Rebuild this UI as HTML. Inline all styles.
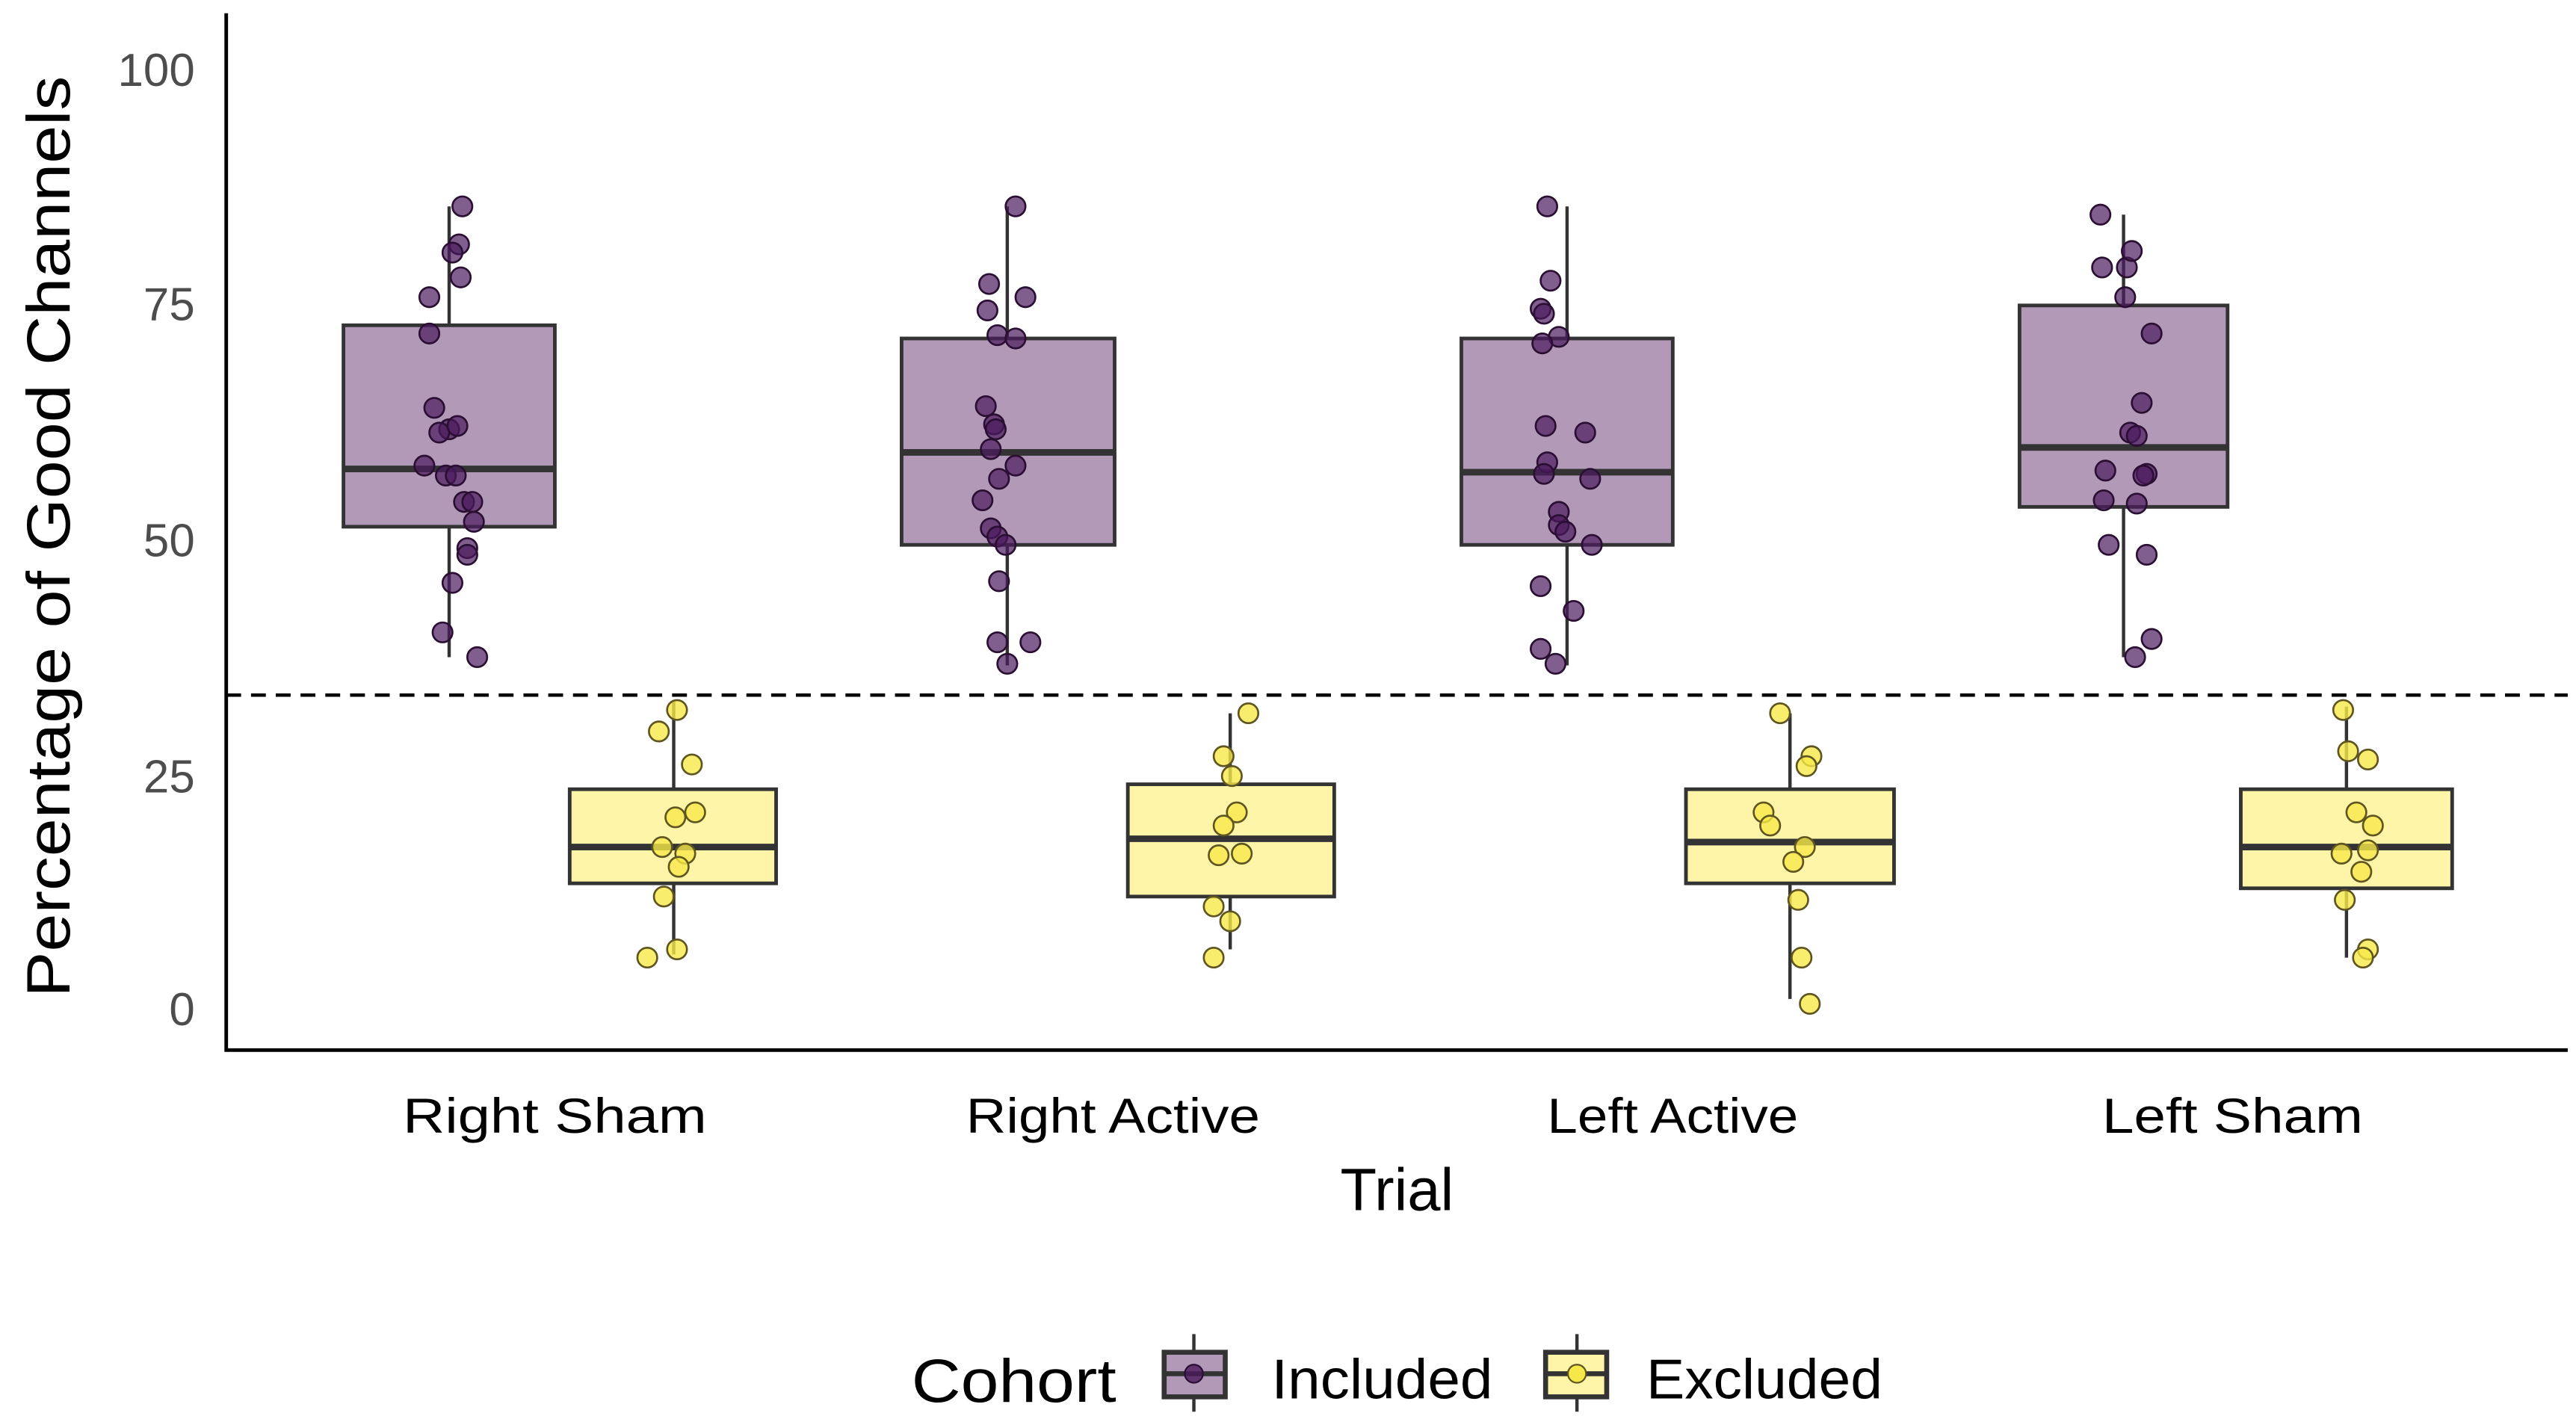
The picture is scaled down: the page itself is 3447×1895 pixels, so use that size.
<!DOCTYPE html>
<html><head><meta charset="utf-8"><style>html,body{margin:0;padding:0;background:#fff}svg{display:block}</style></head>
<body>
<svg width="3447" height="1895" viewBox="0 0 1560 857.6" xmlns="http://www.w3.org/2000/svg" font-family="Liberation Sans, Arial, sans-serif">
<rect width="1560" height="857.6" fill="#fff"/>
<!-- dashed threshold -->
<line x1="137" y1="421" x2="1555" y2="421" stroke="#000" stroke-width="2" stroke-dasharray="9,6"/>
<g stroke="#333" stroke-width="2">
<!-- whiskers -->
<line x1="272" y1="125" x2="272" y2="398"/><line x1="408" y1="425" x2="408" y2="578"/>
<line x1="610" y1="125" x2="610" y2="403"/><line x1="745" y1="432" x2="745" y2="575"/>
<line x1="949" y1="125" x2="949" y2="403"/><line x1="1084" y1="432" x2="1084" y2="605"/>
<line x1="1286" y1="130" x2="1286" y2="398"/><line x1="1421" y1="428" x2="1421" y2="580"/>
</g>
<g stroke="#333" stroke-width="2.2">
<rect x="208" y="197" width="128" height="122" fill="#b399b8"/>
<rect x="345" y="478" width="125" height="57" fill="#fff5a8"/>
<rect x="546" y="205" width="129" height="125" fill="#b399b8"/>
<rect x="683" y="475" width="125" height="68" fill="#fff5a8"/>
<rect x="885" y="205" width="128" height="125" fill="#b399b8"/>
<rect x="1021" y="478" width="126" height="57" fill="#fff5a8"/>
<rect x="1223" y="185" width="126" height="122" fill="#b399b8"/>
<rect x="1357" y="478" width="128" height="60" fill="#fff5a8"/>
</g>
<g stroke="#333" stroke-width="4">
<line x1="208" y1="284" x2="336" y2="284"/><line x1="345" y1="513" x2="470" y2="513"/>
<line x1="546" y1="274" x2="675" y2="274"/><line x1="683" y1="508" x2="808" y2="508"/>
<line x1="885" y1="286" x2="1013" y2="286"/><line x1="1021" y1="510" x2="1147" y2="510"/>
<line x1="1223" y1="271" x2="1349" y2="271"/><line x1="1357" y1="513" x2="1485" y2="513"/>
</g>
<!-- included points -->
<g fill="#4a1a5c" fill-opacity="0.7" stroke="#2a0f33" stroke-width="1.2">
<circle cx="280" cy="125" r="6"/><circle cx="278" cy="148" r="6"/><circle cx="274" cy="153" r="6"/><circle cx="279" cy="168" r="6"/><circle cx="260" cy="180" r="6"/><circle cx="260" cy="202" r="6"/><circle cx="263" cy="247" r="6"/><circle cx="272" cy="260" r="6"/><circle cx="266" cy="262" r="6"/><circle cx="277" cy="258" r="6"/><circle cx="257" cy="282" r="6"/><circle cx="270" cy="288" r="6"/><circle cx="276" cy="288" r="6"/><circle cx="281" cy="304" r="6"/><circle cx="286" cy="304" r="6"/><circle cx="287" cy="316" r="6"/><circle cx="283" cy="332" r="6"/><circle cx="283" cy="336" r="6"/><circle cx="274" cy="353" r="6"/><circle cx="268" cy="383" r="6"/><circle cx="289" cy="398" r="6"/>
<circle cx="615" cy="125" r="6"/><circle cx="599" cy="172" r="6"/><circle cx="621" cy="180" r="6"/><circle cx="598" cy="188" r="6"/><circle cx="604" cy="203" r="6"/><circle cx="615" cy="205" r="6"/><circle cx="597" cy="246" r="6"/><circle cx="602" cy="257" r="6"/><circle cx="603" cy="260" r="6"/><circle cx="600" cy="272" r="6"/><circle cx="615" cy="282" r="6"/><circle cx="605" cy="290" r="6"/><circle cx="595" cy="303" r="6"/><circle cx="600" cy="320" r="6"/><circle cx="604" cy="325" r="6"/><circle cx="609" cy="330" r="6"/><circle cx="605" cy="352" r="6"/><circle cx="604" cy="389" r="6"/><circle cx="624" cy="389" r="6"/><circle cx="610" cy="402" r="6"/>
<circle cx="937" cy="125" r="6"/><circle cx="939" cy="170" r="6"/><circle cx="933" cy="187" r="6"/><circle cx="935" cy="190" r="6"/><circle cx="944" cy="204" r="6"/><circle cx="934" cy="208" r="6"/><circle cx="936" cy="258" r="6"/><circle cx="960" cy="262" r="6"/><circle cx="937" cy="280" r="6"/><circle cx="963" cy="290" r="6"/><circle cx="935" cy="287" r="6"/><circle cx="944" cy="310" r="6"/><circle cx="944" cy="318" r="6"/><circle cx="948" cy="322" r="6"/><circle cx="964" cy="330" r="6"/><circle cx="933" cy="355" r="6"/><circle cx="953" cy="370" r="6"/><circle cx="933" cy="393" r="6"/><circle cx="942" cy="402" r="6"/>
<circle cx="1272" cy="130" r="6"/><circle cx="1288" cy="162" r="6"/><circle cx="1273" cy="162" r="6"/><circle cx="1291" cy="152" r="6"/><circle cx="1287" cy="180" r="6"/><circle cx="1303" cy="202" r="6"/><circle cx="1297" cy="244" r="6"/><circle cx="1290" cy="262" r="6"/><circle cx="1294" cy="264" r="6"/><circle cx="1275" cy="285" r="6"/><circle cx="1300" cy="287" r="6"/><circle cx="1298" cy="288" r="6"/><circle cx="1274" cy="303" r="6"/><circle cx="1294" cy="305" r="6"/><circle cx="1277" cy="330" r="6"/><circle cx="1300" cy="336" r="6"/><circle cx="1303" cy="387" r="6"/><circle cx="1293" cy="398" r="6"/>
</g>
<!-- excluded points -->
<g fill="#f7e84a" fill-opacity="0.8" stroke="#5e5520" stroke-width="1.2">
<circle cx="410" cy="430" r="6"/><circle cx="399" cy="443" r="6"/><circle cx="419" cy="463" r="6"/><circle cx="409" cy="495" r="6"/><circle cx="421" cy="492" r="6"/><circle cx="401" cy="513" r="6"/><circle cx="415" cy="517" r="6"/><circle cx="411" cy="525" r="6"/><circle cx="402" cy="543" r="6"/><circle cx="410" cy="575" r="6"/><circle cx="392" cy="580" r="6"/>
<circle cx="756" cy="432" r="6"/><circle cx="741" cy="458" r="6"/><circle cx="746" cy="470" r="6"/><circle cx="749" cy="492" r="6"/><circle cx="741" cy="500" r="6"/><circle cx="738" cy="518" r="6"/><circle cx="752" cy="517" r="6"/><circle cx="735" cy="549" r="6"/><circle cx="745" cy="558" r="6"/><circle cx="735" cy="580" r="6"/>
<circle cx="1078" cy="432" r="6"/><circle cx="1097" cy="458" r="6"/><circle cx="1094" cy="464" r="6"/><circle cx="1068" cy="492" r="6"/><circle cx="1072" cy="500" r="6"/><circle cx="1093" cy="513" r="6"/><circle cx="1086" cy="522" r="6"/><circle cx="1089" cy="545" r="6"/><circle cx="1091" cy="580" r="6"/><circle cx="1096" cy="608" r="6"/>
<circle cx="1419" cy="430" r="6"/><circle cx="1422" cy="455" r="6"/><circle cx="1434" cy="460" r="6"/><circle cx="1427" cy="492" r="6"/><circle cx="1437" cy="500" r="6"/><circle cx="1418" cy="517" r="6"/><circle cx="1434" cy="515" r="6"/><circle cx="1430" cy="528" r="6"/><circle cx="1420" cy="545" r="6"/><circle cx="1434" cy="575" r="6"/><circle cx="1431" cy="580" r="6"/>
</g>
<!-- axes -->
<line x1="137" y1="8" x2="137" y2="637" stroke="#000" stroke-width="2.2"/>
<line x1="136" y1="636" x2="1555" y2="636" stroke="#000" stroke-width="2.2"/>
<!-- y tick labels -->
<g fill="#4d4d4d" font-size="28" text-anchor="end">
<text x="118" y="52">100</text><text x="118" y="194">75</text><text x="118" y="337">50</text><text x="118" y="480">25</text><text x="118" y="621">0</text>
</g>
<text transform="translate(42,325) rotate(-90)" font-size="37" text-anchor="middle" fill="#000" textLength="558" lengthAdjust="spacingAndGlyphs">Percentage of Good Channels</text>
<g font-size="30" text-anchor="middle" fill="#000">
<text x="336" y="686" textLength="184" lengthAdjust="spacingAndGlyphs">Right Sham</text>
<text x="674" y="686" textLength="178" lengthAdjust="spacingAndGlyphs">Right Active</text>
<text x="1013" y="686" textLength="152" lengthAdjust="spacingAndGlyphs">Left Active</text>
<text x="1352" y="686" textLength="158" lengthAdjust="spacingAndGlyphs">Left Sham</text>
</g>
<text x="846" y="733" font-size="36" text-anchor="middle" fill="#000">Trial</text>
<!-- legend -->
<text x="552" y="849" font-size="37" fill="#000" textLength="124" lengthAdjust="spacingAndGlyphs">Cohort</text>
<line x1="723" y1="808" x2="723" y2="855" stroke="#333" stroke-width="2"/>
<rect x="705" y="819" width="37" height="27" fill="#b399b8" stroke="#333" stroke-width="3"/>
<line x1="705" y1="832" x2="742" y2="832" stroke="#333" stroke-width="3"/>
<circle cx="723" cy="832" r="5.5" fill="#4a1a5c" fill-opacity="0.8" stroke="#2a0f33"/>
<text x="770" y="847" font-size="34" fill="#000" textLength="134" lengthAdjust="spacingAndGlyphs">Included</text>
<line x1="955" y1="808" x2="955" y2="855" stroke="#333" stroke-width="2"/>
<rect x="936" y="819" width="37" height="27" fill="#fff5a8" stroke="#333" stroke-width="3"/>
<line x1="936" y1="832" x2="973" y2="832" stroke="#333" stroke-width="3"/>
<circle cx="955" cy="832" r="5.5" fill="#f7e84a" stroke="#5e5520"/>
<text x="997" y="847" font-size="34" fill="#000" textLength="143" lengthAdjust="spacingAndGlyphs">Excluded</text>
</svg>
</body></html>
